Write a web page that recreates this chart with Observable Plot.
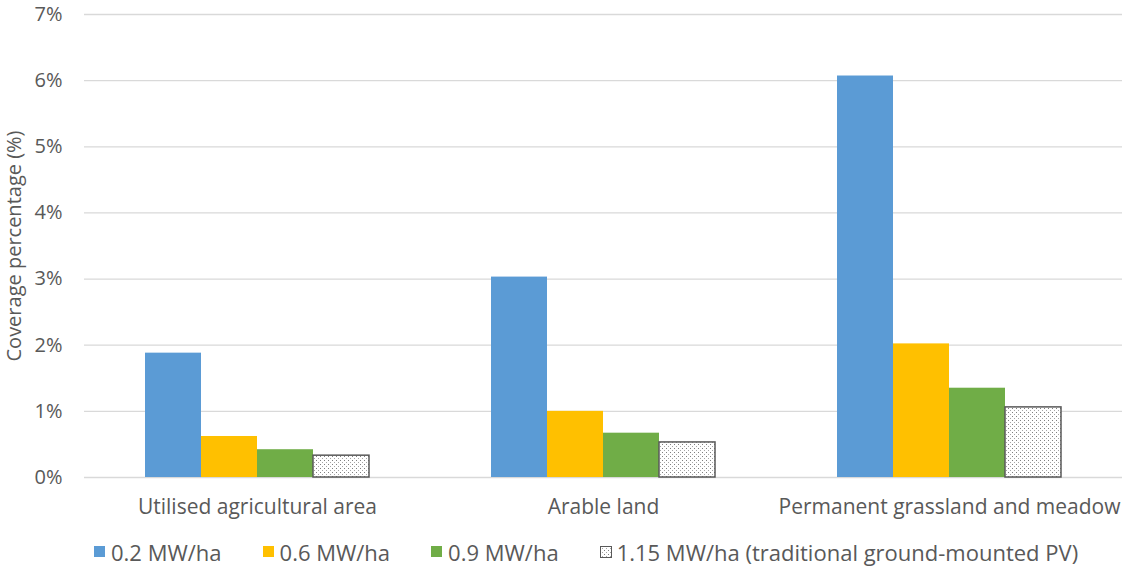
<!DOCTYPE html>
<html>
<head>
<meta charset="utf-8">
<script src="https://cdn.jsdelivr.net/npm/d3@7"></script>
<script src="https://cdn.jsdelivr.net/npm/@observablehq/plot@0.6"></script>
<style>
  html, body { margin: 0; padding: 0; background: #fff; }
  body { width: 1126px; height: 567px; overflow: hidden; font-family: "Open Sans", sans-serif; color: #595959; }
  #legend { display: flex; align-items: center; height: 44px; margin-left: 94px; font-size: 22px; white-space: nowrap; }
  .item { display: flex; align-items: center; margin-right: 41px; }
</style>
</head>
<body>
<div id="chart"></div>
<div id="legend"></div>
<script>
const categories = ["Utilised agricultural area", "Arable land", "Permanent grassland and meadow"];
const seriesNames = ["0.2 MW/ha", "0.6 MW/ha", "0.9 MW/ha", "1.15 MW/ha (traditional ground-mounted PV)"];
const seriesColors = ["#5B9BD5", "#FFC000", "#70AD47", "url(#dots)"];
const values02 = [1.88, 3.03, 6.07];
const values06 = [0.62, 1.00, 2.02];
const values09 = [0.42, 0.67, 1.35];
const values115 = [0.33, 0.53, 1.06];
const yTicks = [0, 1, 2, 3, 4, 5, 6, 7];
const yLabel = "Coverage percentage (%)";

const allValues = [values02, values06, values09, values115];
const data = [];
categories.forEach((c, i) => {
  seriesNames.forEach((s, j) => {
    data.push({category: c, series: s, value: allValues[j][i]});
  });
});
const hatched = seriesNames[3];

const chart = Plot.plot({
  width: 1126,
  height: 530,
  marginLeft: 84,
  marginRight: 4,
  marginTop: 14,
  marginBottom: 53,
  style: {fontFamily: "'Open Sans', sans-serif", fontSize: "19px", color: "#595959", background: "#fff"},
  fx: {domain: categories, padding: 0, label: null},
  x: {domain: seriesNames, paddingInner: 0, paddingOuter: 1.089, axis: null},
  y: {domain: [0, 7], label: null},
  color: {domain: seriesNames, range: seriesColors},
  marks: [
    Plot.gridY(yTicks, {stroke: "#d9d9d9", strokeOpacity: 1, strokeWidth: 1.3}),
    Plot.axisY(yTicks, {tickSize: 0, tickPadding: 22, tickFormat: d => d + "%", label: yLabel, labelArrow: "none", labelAnchor: "center", labelOffset: 78, fontSize: 20}),
    Plot.axisFx({anchor: "bottom", tickSize: 0, tickPadding: 22, label: null, fontSize: 21}),
    Plot.barY(data, {fx: "category", x: "series", y: "value", fill: "series"}),
    Plot.barY(data.filter(d => d.series === hatched), {fx: "category", x: "series", y: "value", fill: "none", stroke: "#595959", strokeWidth: 1.5})
  ]
});

const ns = "http://www.w3.org/2000/svg";
const defs = document.createElementNS(ns, "defs");
defs.innerHTML = `<pattern id="dots" width="4" height="4" patternUnits="userSpaceOnUse">
  <rect width="4" height="4" fill="#ffffff"/>
  <rect x="0" y="0" width="1" height="1" fill="#7f7f7f"/>
  <rect x="2" y="2" width="1" height="1" fill="#a6a6a6"/>
</pattern>`;
chart.insertBefore(defs, chart.firstChild);
document.getElementById("chart").appendChild(chart);

const legend = document.getElementById("legend");
seriesNames.forEach((s, j) => {
  const item = document.createElement("div");
  item.className = "item";
  const sw = document.createElementNS(ns, "svg");
  sw.setAttribute("width", 12);
  sw.setAttribute("height", 12);
  sw.style.marginRight = "5px";
  const r = document.createElementNS(ns, "rect");
  if (j === 3) {
    r.setAttribute("x", 0.5); r.setAttribute("y", 0.5);
    r.setAttribute("width", 11); r.setAttribute("height", 11);
    r.setAttribute("stroke", "#595959");
  } else {
    r.setAttribute("x", 0); r.setAttribute("y", 0);
    r.setAttribute("width", 11); r.setAttribute("height", 11);
  }
  r.setAttribute("fill", seriesColors[j]);
  sw.appendChild(r);
  item.appendChild(sw);
  const t = document.createElement("span");
  t.textContent = s;
  item.appendChild(t);
  legend.appendChild(item);
});
</script>
</body>
</html>
